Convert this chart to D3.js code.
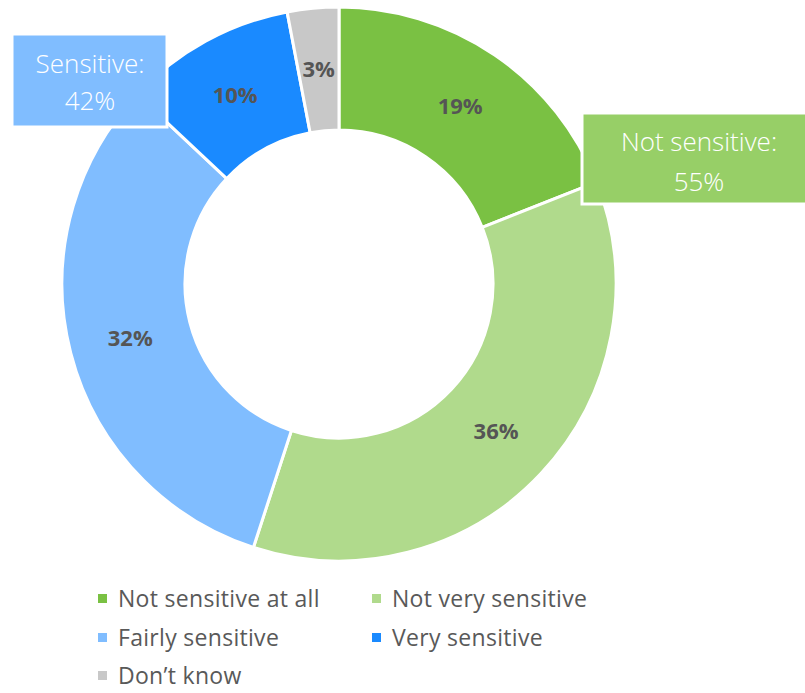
<!DOCTYPE html>
<html>
<head>
<meta charset="utf-8">
<script src="https://cdn.jsdelivr.net/npm/d3@7"></script>
<style>
  html, body { margin: 0; padding: 0; background: #fff; }
  svg { display: block; }
</style>
</head>
<body>
<svg id="chart" width="805" height="693"></svg>
<script>
// Survey answers, clockwise from 12 o'clock
const categories = ["Not sensitive at all", "Not very sensitive", "Fairly sensitive", "Very sensitive", "Don\u2019t know"];
const values = [19, 36, 32, 10, 3];
const colors = ["#7AC143", "#B0DA8C", "#80BDFF", "#1A8AFF", "#C8C8C8"];

// Grouped totals shown in the call-out boxes
const groupLabels = ["Sensitive:", "Not sensitive:"];
const groupValues = [42, 55];
const groupColors = ["#80BDFF", "#97CF67"];

// Legend order (two columns)
const legendOrder = [0, 1, 2, 3, 4];

const svg = d3.select("#chart");
const cx = 339, cy = 284;
const outerR = 277, innerR = 154;

const pie = d3.pie().sort(null).value(d => d)
  .startAngle(0).endAngle(2 * Math.PI);
const arcs = pie(values);
const arc = d3.arc().innerRadius(innerR).outerRadius(outerR);

const g = svg.append("g").attr("transform", `translate(${cx},${cy})`);

g.selectAll("path.slice")
  .data(arcs)
  .join("path")
  .attr("class", "slice")
  .attr("d", arc)
  .attr("fill", (d, i) => colors[i])
  .attr("stroke", "#fff")
  .attr("stroke-width", 3)
  .attr("stroke-linejoin", "round");

g.selectAll("text.pct")
  .data(arcs)
  .join("text")
  .attr("class", "pct")
  .attr("transform", d => `translate(${arc.centroid(d)})`)
  .attr("text-anchor", "middle")
  .attr("dy", "0.36em")
  .attr("font-family", "'Open Sans', 'Noto Sans', sans-serif")
  .attr("font-weight", 700)
  .attr("font-size", 22)
  .attr("fill", "#555")
  .text(d => d.data + "%");

// Call-out boxes with grouped totals
const boxes = [
  { x: 12, y: 34, w: 155, h: 93, cx: 90, l1: 73, l2: 110 },
  { x: 582, y: 113, w: 226, h: 91, cx: 699, l1: 151, l2: 191 }
];
boxes.forEach((b, i) => {
  svg.append("rect")
    .attr("x", b.x).attr("y", b.y)
    .attr("width", b.w).attr("height", b.h)
    .attr("fill", groupColors[i])
    .attr("stroke", "#fff").attr("stroke-width", 3);
  const t = svg.append("text")
    .attr("text-anchor", "middle")
    .attr("font-family", "'Open Sans', 'Noto Sans', sans-serif")
    .attr("font-weight", 300)
    .attr("font-size", 26)
    .attr("fill", "#fff");
  t.append("tspan").attr("x", b.cx).attr("y", b.l1).text(groupLabels[i]);
  t.append("tspan").attr("x", b.cx).attr("y", b.l2).text(groupValues[i] + "%");
});

// Legend
const colX = [98, 372];
const rowY = [599, 638, 676];
const legend = svg.append("g");
legendOrder.forEach((idx, k) => {
  const x = colX[k % 2], y = rowY[Math.floor(k / 2)];
  legend.append("rect")
    .attr("x", x).attr("y", y - 5)
    .attr("width", 9).attr("height", 9)
    .attr("fill", colors[idx]);
  legend.append("text")
    .attr("x", x + 20).attr("y", y)
    .attr("dy", "0.35em")
    .attr("font-family", "'Open Sans', 'Noto Sans', sans-serif")
    .attr("font-size", 23)
    .attr("letter-spacing", 0.3)
    .attr("fill", "#595959")
    .text(categories[idx]);
});
</script>
</body>
</html>
